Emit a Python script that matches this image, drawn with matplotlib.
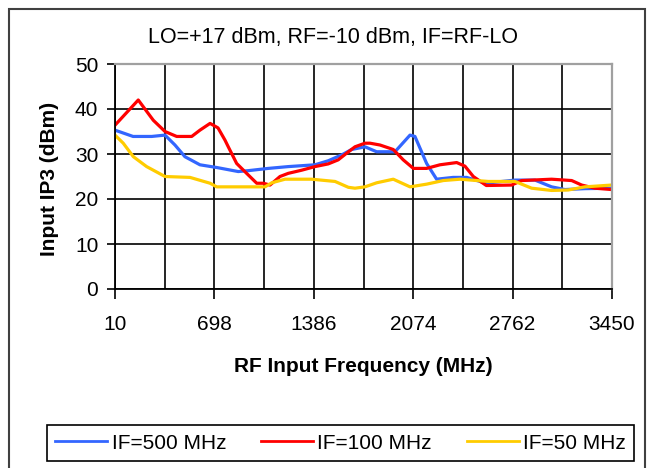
import matplotlib
matplotlib.use("Agg")
import matplotlib.pyplot as plt
from matplotlib.lines import Line2D
from matplotlib.patches import Rectangle

plt.rcParams['font.family'] = ['Liberation Sans', 'DejaVu Sans']

title = "LO=+17 dBm, RF=-10 dBm, IF=RF-LO"
xlabel = "RF Input Frequency (MHz)"
ylabel = "Input IP3 (dBm)"
xticks = [10, 698, 1386, 2074, 2762, 3450]
xminor = [354, 1042, 1730, 2418, 3106]
yticks = [0, 10, 20, 30, 40, 50]

# IF = 500 MHz (blue)
f500 = [10, 135, 264, 356, 425, 494, 598, 714, 863, 933, 1071, 1209, 1394, 1486,
        1579, 1648, 1740, 1821, 1948, 2052, 2086, 2167, 2236, 2351, 2444, 2536,
        2571, 2778, 2917, 3032, 3124, 3263, 3448]
v500 = [35.3, 33.9, 33.9, 34.2, 32.0, 29.4, 27.6, 27.0, 26.1, 26.3, 26.8, 27.2, 27.6, 28.5,
        29.8, 31.0, 31.6, 30.5, 30.5, 34.2, 33.9, 27.9, 24.4, 24.8, 24.8, 23.9,
        23.5, 24.2, 24.2, 22.7, 22.1, 22.3, 22.4]

# IF = 100 MHz (red)
f100 = [10, 171, 275, 356, 437, 541, 598, 668, 723, 771, 794, 852, 921, 991, 1036,
        1083, 1152, 1209, 1302, 1394, 1486, 1555, 1614, 1671, 1740, 1775, 1844,
        1936, 2005, 2075, 2167, 2259, 2375, 2432, 2490, 2580, 2755, 2825, 3032,
        3171, 3240, 3332, 3448]
v100 = [36.4, 42.0, 37.5, 35.0, 33.9, 33.9, 35.3, 36.8, 35.8, 33.1, 31.6, 27.9, 25.7, 23.5, 23.5,
        23.1, 25.0, 25.7, 26.4, 27.2, 27.8, 28.7, 30.2, 31.6, 32.4, 32.4, 32.0,
        31.0, 28.7, 26.8, 26.8, 27.6, 28.1, 27.3, 25.0, 23.0, 23.1, 24.1, 24.4,
        24.1, 23.1, 22.4, 22.1]

# IF = 50 MHz (yellow)
f50 = [10, 67, 137, 229, 356, 529, 668, 714, 863, 1048, 1095, 1187, 1371, 1533,
       1625, 1671, 1740, 1821, 1936, 2052, 2167, 2282, 2398, 2513, 2594, 2778,
       2894, 3032, 3147, 3263, 3448]
v50 = [34.2, 32.4, 29.4, 27.2, 25.0, 24.8, 23.5, 22.7, 22.7, 22.7, 23.6, 24.4, 24.4, 23.9,
       22.6, 22.4, 22.7, 23.6, 24.4, 22.7, 23.3, 24.1, 24.4, 24.1, 23.9, 23.9,
       22.4, 21.9, 22.0, 22.7, 23.1]

labels = ["IF=500 MHz", "IF=100 MHz", "IF=50 MHz"]
colors = ["#3366FF", "#FF0000", "#FFCC00"]

W, H = 651, 468
fig = plt.figure(figsize=(W / 100, H / 100), dpi=100)
fig.patch.set_facecolor('white')

# outer chart border
fig.add_artist(Rectangle((9 / W, -10 / H), 636 / W, (468 - 9 + 10) / H,
                         transform=fig.transFigure, fill=False,
                         edgecolor='#404040', lw=1.5, clip_on=False))

ax = fig.add_axes([115 / W, 1 - 289 / H, (612 - 115) / W, (289 - 64) / H])
ax.set_axisbelow(True)

for f, v, c in zip([f500, f100, f50], [v500, v100, v50], colors):
    ax.plot(f, v, color=c, lw=2.3, solid_joinstyle='round')

ax.set_xlim(10, 3450)
ax.set_ylim(0, 50)
ax.set_xticks(xticks)
ax.set_xticks(xminor, minor=True)
ax.set_yticks(yticks)
ax.grid(True, which='both', color='black', lw=1.2)

for s in ['left', 'bottom']:
    ax.spines[s].set_color('black')
    ax.spines[s].set_linewidth(1.3)
for s in ['top', 'right']:
    ax.spines[s].set_color('#A0A0A0')
    ax.spines[s].set_linewidth(1.6)

ax.tick_params(axis='x', which='major', direction='out', length=7, width=1.2,
               pad=12, labelsize=15, colors='black')
ax.tick_params(axis='x', which='minor', length=0)
ax.tick_params(axis='y', direction='out', length=6, width=1.2, pad=6,
               labelsize=15, colors='black')

ax.set_xlabel(xlabel, fontsize=15, fontweight='bold')
ax.xaxis.set_label_coords(0.5, (289 - 366) / 225)
ax.xaxis.label.set_va('center')
ax.set_ylabel(ylabel, fontsize=15, fontweight='bold')
ax.yaxis.set_label_coords((50 - 115) / 497, 0.49)
ax.yaxis.label.set_va('center')

fig.text(333 / W, 1 - 38 / H, title, fontsize=15.5, ha='center', va='center')

handles = [Line2D([], [], color=c, lw=2) for c in colors]
leg = fig.legend(handles, labels, ncol=3, loc='lower left',
                 bbox_to_anchor=(47 / W, 7 / H, 587 / W, 70 / H), mode='expand',
                 borderaxespad=0, fontsize=15, handlelength=2.5, handletextpad=0.2,
                 fancybox=False, frameon=True, framealpha=1)
leg.get_frame().set_edgecolor('black')
leg.get_frame().set_linewidth(1.2)

fig.savefig('out.png', dpi=100)
